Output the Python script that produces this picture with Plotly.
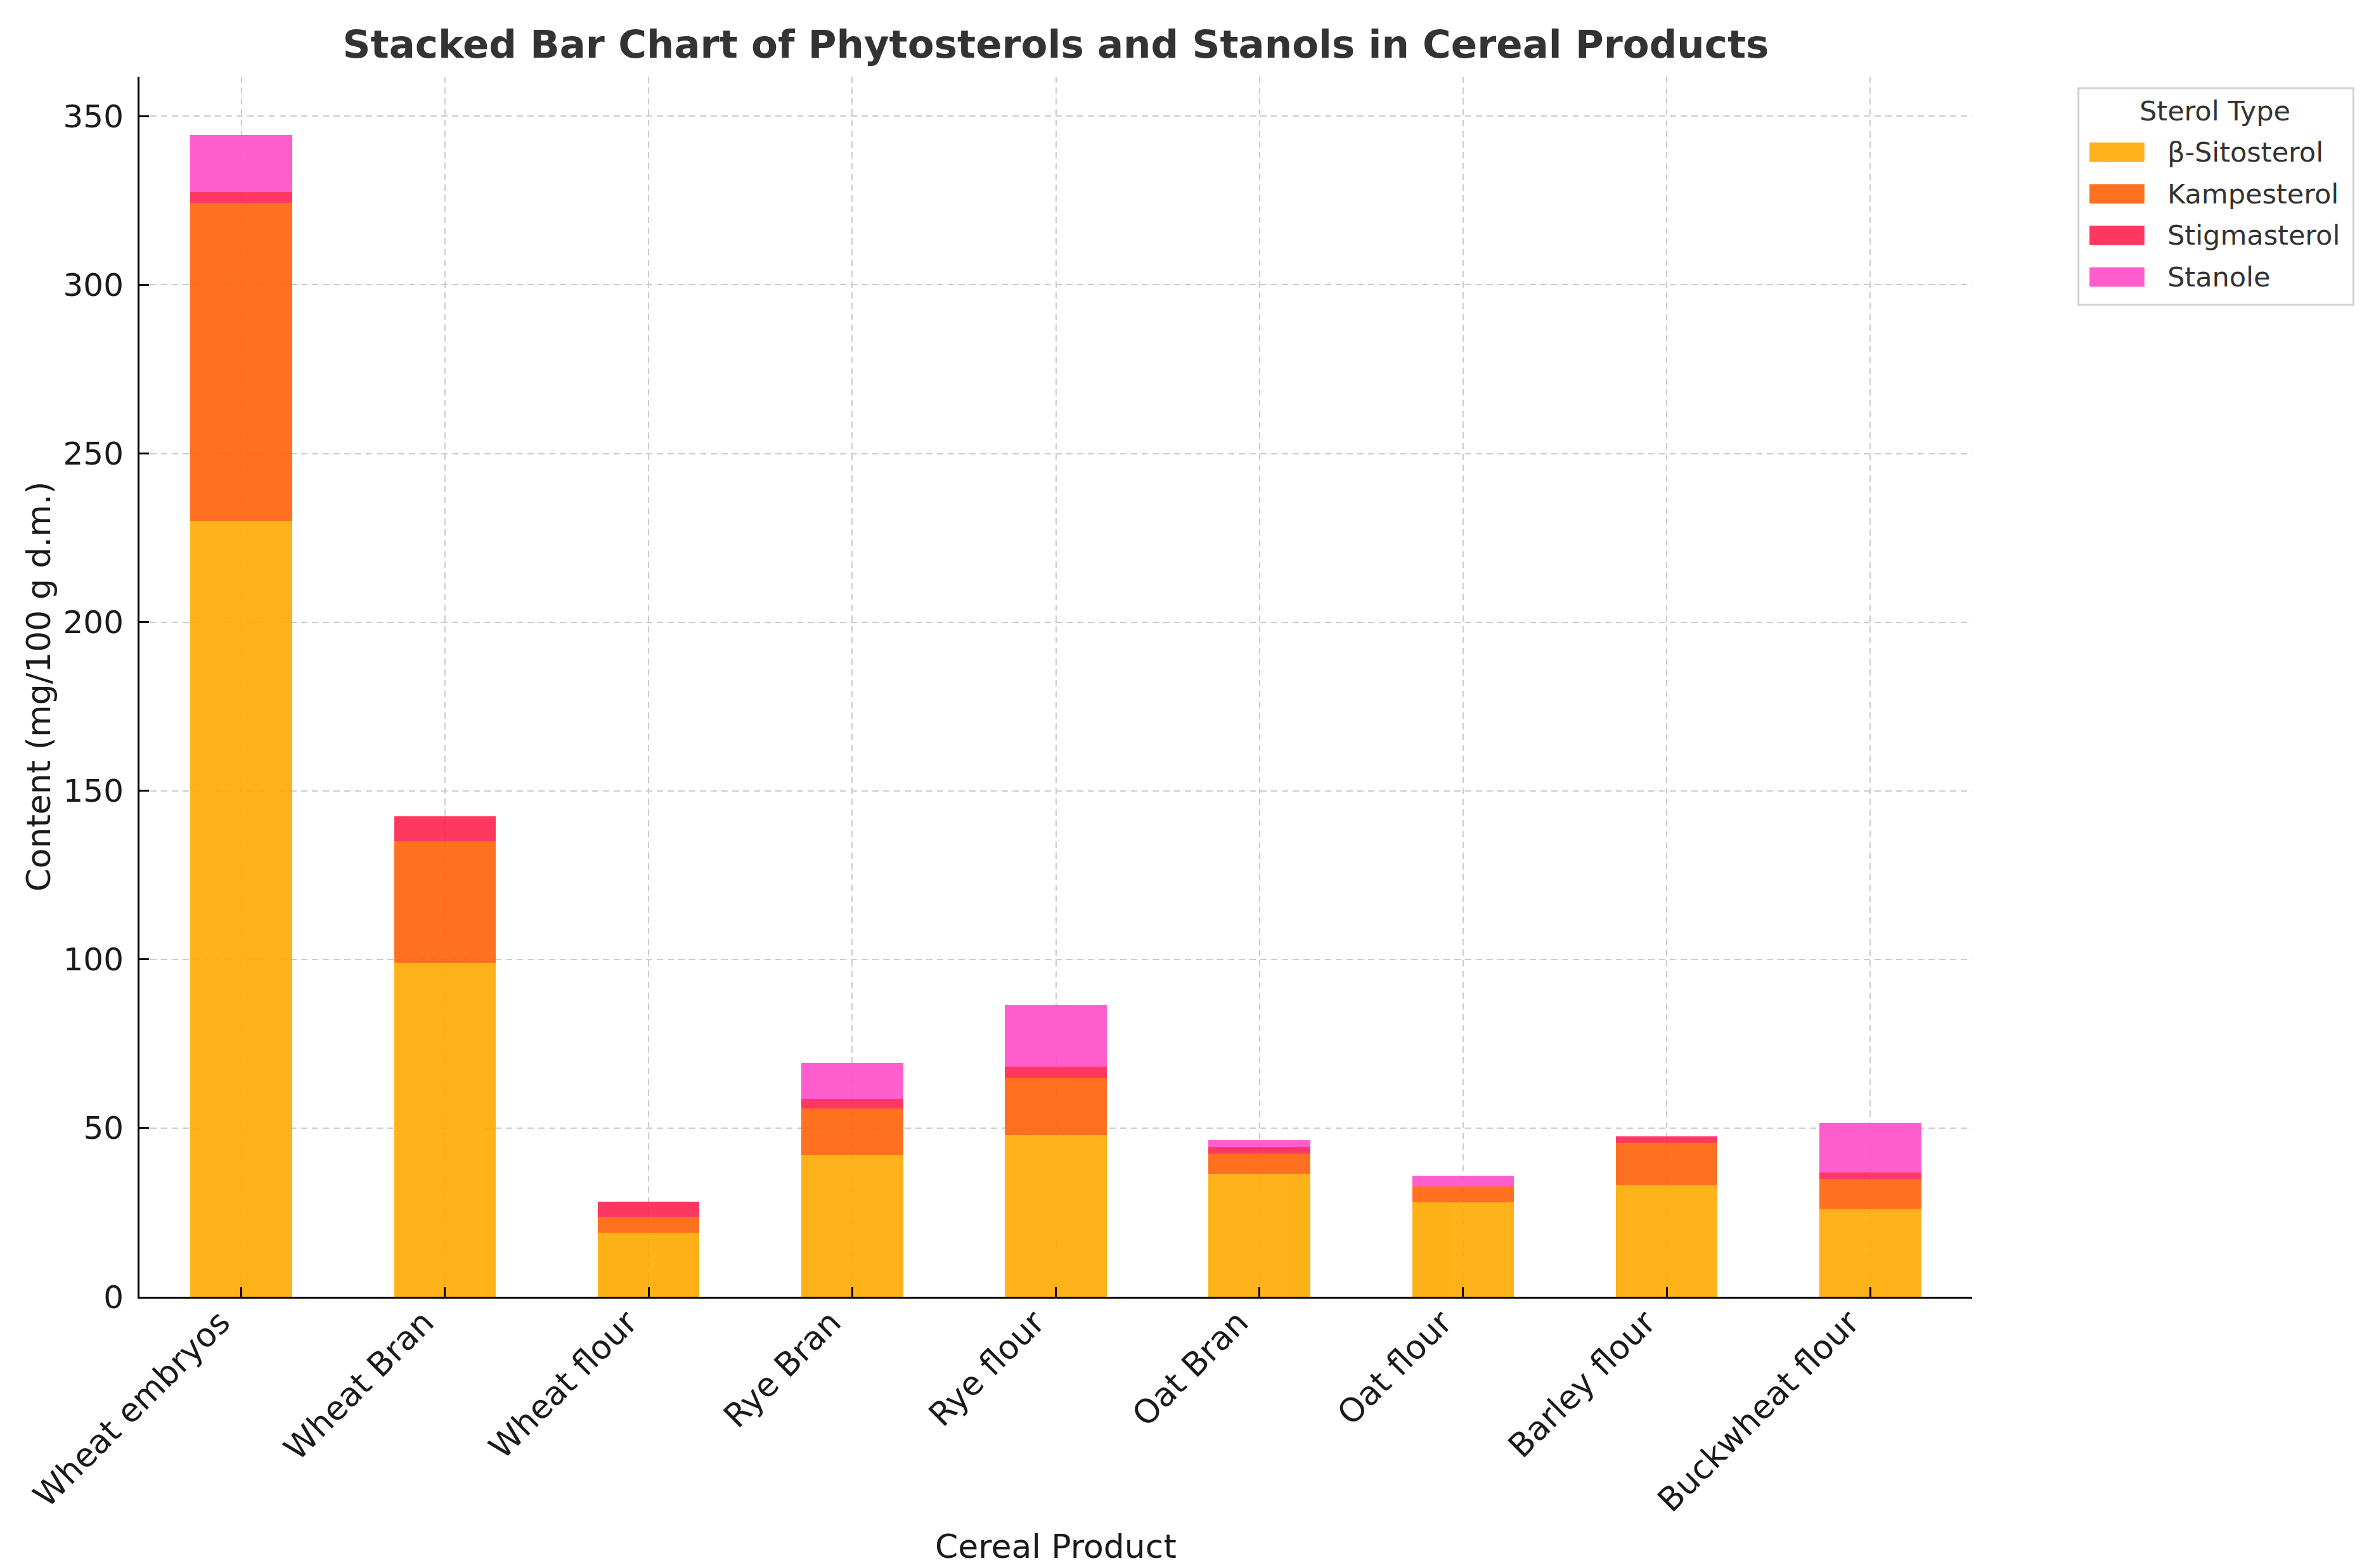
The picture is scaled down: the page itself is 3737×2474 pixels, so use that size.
import plotly.graph_objects as go

# --- data (mg/100 g d.m.) ---
products = ["Wheat embryos", "Wheat Bran", "Wheat flour", "Rye Bran", "Rye flour",
            "Oat Bran", "Oat flour", "Barley flour", "Buckwheat flour"]
sitosterol = [230, 99, 19, 42, 48, 36.4, 28, 33, 26]
kampesterol = [94.3, 36.2, 4.7, 13.8, 16.8, 6.1, 4.7, 12.7, 8.9]
stigmasterol = [3.3, 7.3, 4.4, 2.8, 3.4, 1.8, 0, 1.8, 1.9]
stanole = [16.9, 0, 0, 10.8, 18.2, 2.1, 3.2, 0, 14.6]

sterol_types = ["β-Sitosterol", "Kampesterol", "Stigmasterol", "Stanole"]
colors = ["#FFAA00", "#FF6208", "#FF2250", "#FF4CC6"]
values = [sitosterol, kampesterol, stigmasterol, stanole]

FONT = "DejaVu Sans"

fig = go.Figure()
for name, vals, color in zip(sterol_types, values, colors):
    fig.add_trace(go.Bar(
        x=products, y=vals, name=name,
        marker=dict(color=color, line=dict(width=0)),
        opacity=0.9, width=0.5, showlegend=False,
    ))

top = max(sum(v) for v in zip(*values))

# --- legend box, drawn by hand so the swatches get matplotlib's wide patches ---
shapes = [dict(type="rect", xref="paper", yref="paper",
               x0=1.058, x1=1.208, y0=0.813, y1=0.9905,
               line=dict(color="#d0d0d0", width=3), fillcolor="white", layer="below")]
annotations = [dict(text="Sterol Type", xref="paper", yref="paper",
                    x=1.1325, y=0.9718, xanchor="center", yanchor="middle",
                    showarrow=False, font=dict(family=FONT, size=43, color="#333333"))]
for i, (name, color) in enumerate(zip(sterol_types, colors)):
    yc = 0.9381 - i * 0.0341
    shapes.append(dict(type="rect", xref="paper", yref="paper",
                       x0=1.064, x1=1.094, y0=yc - 0.008, y1=yc + 0.008,
                       line=dict(width=0), fillcolor=color, opacity=0.9))
    annotations.append(dict(text=name, xref="paper", yref="paper",
                            x=1.106, y=yc, xanchor="left", yanchor="middle",
                            showarrow=False,
                            font=dict(family=FONT, size=43, color="#333333")))

# --- axis titles ---
annotations.append(dict(text="Cereal Product", xref="paper", yref="paper",
                        x=0.5, y=-0.2045, xanchor="center", yanchor="middle",
                        showarrow=False, font=dict(family=FONT, size=52, color="#1a1a1a")))
annotations.append(dict(text="Content (mg/100 g d.m.)", xref="paper", yref="paper",
                        x=-0.0553, y=0.5, xanchor="center", yanchor="middle",
                        textangle=-90, showarrow=False,
                        font=dict(family=FONT, size=52, color="#1a1a1a")))

fig.update_layout(
    barmode="stack",
    width=3737, height=2474,
    margin=dict(l=212, r=634, t=113, b=436),
    paper_bgcolor="white", plot_bgcolor="white",
    font=dict(family=FONT, size=50, color="#1a1a1a"),
    title=dict(
        text="Stacked Bar Chart of Phytosterols and Stanols in Cereal Products",
        font=dict(family=FONT, size=61, color="#333333", weight="bold"),
        x=0.5, xref="paper", xanchor="center",
        y=1 - 62 / 2474, yanchor="middle",
    ),
    shapes=shapes,
    annotations=annotations,
    showlegend=False,
)

fig.update_xaxes(
    tickangle=-45, tickfont=dict(size=52),
    ticks="inside", ticklen=15, tickwidth=3, tickcolor="black",
    ticklabelstandoff=-14, ticklabelshift=-33,
    showline=True, linecolor="black", linewidth=3,
    showgrid=True, gridcolor="#cccccc", gridwidth=2, griddash="10px,7px",
    range=[-0.5, len(products) - 0.5], automargin=False,
)
fig.update_yaxes(
    range=[0, top * 1.05], dtick=50, tick0=0, tickfont=dict(size=50),
    ticks="inside", ticklen=15, tickwidth=3, tickcolor="black",
    ticklabelstandoff=12,
    showline=True, linecolor="black", linewidth=3,
    showgrid=True, gridcolor="#cccccc", gridwidth=2, griddash="10px,7px",
    zeroline=False, automargin=False,
)

fig.write_html("out.html")
